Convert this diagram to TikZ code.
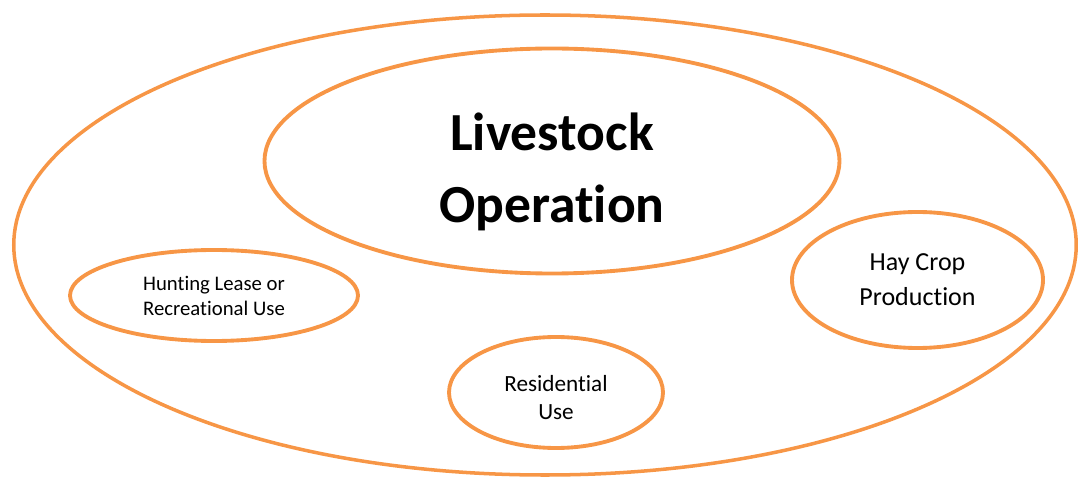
\documentclass[tikz,border=0pt]{standalone}
\usepackage{fontspec}
\setmainfont{Carlito}[Ligatures=NoCommon]
\usepackage{tikz}
\usetikzlibrary{shapes.geometric, positioning}
\definecolor{LandOrange}{RGB}{247, 150, 70}

\begin{document}
\begin{tikzpicture}[
    use/.style={ellipse, draw=LandOrange, line width=2.2pt, align=center, inner sep=0pt},
    whole/.style={ellipse, draw=LandOrange, line width=2pt, inner sep=0pt}
]
    \useasboundingbox (0,0) rectangle (21.56,9.58);

    % Propiedad completa
    \node[whole, minimum width=21.25cm, minimum height=9.2cm] (land) at (10.9,4.68) {};

    % Uso principal
    \node[use, minimum width=11.5cm, minimum height=4.5cm,
        label={[align=center, yshift=-0.22cm, font=\bfseries\fontsize{30.5}{41}\selectfont]center:Livestock\\Operation}]
        (livestock) at (11.04,6.36) {};

    % Usos secundarios
    \node[use, minimum width=5.76cm, minimum height=1.82cm, font=\fontsize{11.8}{14.2}\selectfont]
        (hunting) at (4.28,3.67) {Hunting Lease or\\Recreational Use};
    \node[use, minimum width=5.02cm, minimum height=2.72cm, font=\fontsize{14.8}{19.9}\selectfont]
        (hay) at (18.35,3.98) {Hay Crop\\Production};
    \node[use, minimum width=4.28cm, minimum height=2.22cm,
        label={[align=center, yshift=-0.1cm, font=\fontsize{13.2}{15.8}\selectfont]center:Residential\\Use}]
        (residential) at (11.12,1.73) {};
\end{tikzpicture}
\end{document}
